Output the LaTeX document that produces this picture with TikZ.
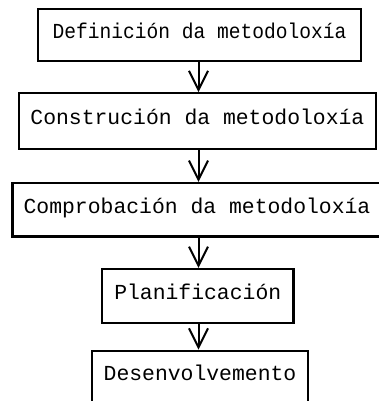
\documentclass[tikz,border=0pt]{standalone}
\usepackage{fontspec}
\newfontfamily\boxfont{Liberation Mono}
\usetikzlibrary{arrows.meta}
\tikzset{
  box/.style={draw, line width=2.2pt, inner sep=0pt, text height=10pt, text depth=3pt,
    font=\boxfont\fontsize{21.4pt}{24pt}\selectfont},
  conn/.style={line width=2pt, -{Straight Barb[length=19pt,width=19pt]}}
}
\begin{document}
\begin{tikzpicture}[x=1pt,y=-1pt]
\useasboundingbox (0,0) rectangle (379,401);
\node[box, minimum width=323pt, minimum height=52pt] (b1) at (199.5,35) {\scalebox{0.915}[1]{Definición da metodoloxía}};
\node[box, minimum width=357pt, minimum height=55.5pt] (b2) at (197.4,120.9) {Construción da metodoloxía};
\node[box, minimum width=369pt, minimum height=53.5pt] (b3) at (197,209.7) {Comprobación da metodoloxía};
\node[box, minimum width=191.5pt, minimum height=54pt] (b4) at (197.75,296) {Planificación};
\node[box, minimum width=216pt, minimum height=52pt] (b5) at (200,376.7) {Desenvolvemento};
\coordinate (ax) at (198.5,0);
\draw[conn] (b1.south -| ax) -- (b2.north -| ax);
\draw[conn] (b2.south -| ax) -- (b3.north -| ax);
\draw[conn] (b3.south -| ax) -- (b4.north -| ax);
\draw[conn] (b4.south -| ax) -- (b5.north -| ax);
\end{tikzpicture}
\end{document}
